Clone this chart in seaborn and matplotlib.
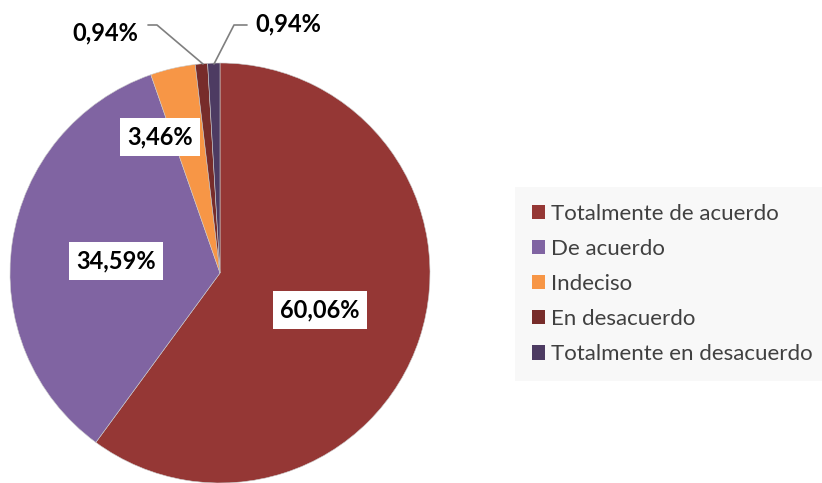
import matplotlib
matplotlib.use('Agg')
import matplotlib.pyplot as plt
import seaborn as sns
from matplotlib.patches import Patch

# 数据
categorias = ['Totalmente de acuerdo', 'De acuerdo', 'Indeciso', 'En desacuerdo', 'Totalmente en desacuerdo']
porcentajes = [60.06, 34.59, 3.46, 0.94, 0.94]
etiquetas = ['60,06%', '34,59%', '3,46%', '0,94%', '0,94%']
colores = ['#953735', '#8064A2', '#F79646', '#772C2A', '#4D3B62']

sns.set_theme(style='white')
plt.rcParams['font.family'] = ['Lato', 'DejaVu Sans']

W, H = 822, 483
fig = plt.figure(figsize=(W / 100, H / 100), dpi=100)
ax = fig.add_axes([0, 0, 1, 1])

palette = sns.color_palette(colores)
cx, cy, r = 220, H - 273, 210
wedges, _ = ax.pie(porcentajes, colors=palette, startangle=90, counterclock=False,
                   center=(cx, cy), radius=r, frame=True,
                   wedgeprops=dict(linewidth=0.4, edgecolor='#cccccc'))
ax.set_xlim(0, W)
ax.set_ylim(0, H)
ax.set_aspect('equal')
ax.axis('off')

# 标签位置（像素坐标，y 从上往下）
pos_labels = [(320, 310), (116, 261), (160, 137), (105, 33), (288, 24)]
box = dict(boxstyle='square,pad=0.3', facecolor='white', edgecolor='none')
for (x, y), txt in zip(pos_labels, etiquetas):
    ax.text(x, H - y, txt, ha='center', va='center', fontsize=17, fontweight='bold',
            color='black', bbox=box, zorder=5)

# 引线
ax.plot([148, 157, 203], [H - 25, H - 25, H - 64], color='#7f7f7f', lw=1.2, zorder=4)
ax.plot([247, 234, 214], [H - 25, H - 25, H - 64], color='#7f7f7f', lw=1.2, zorder=4)

# 图例
handles = [Patch(facecolor=c, edgecolor='none') for c in colores]
leg = ax.legend(handles, categorias, loc='center left', bbox_to_anchor=(515 / W, 1 - 284 / H),
                frameon=True, fontsize=16, labelcolor='#404040', handlelength=0.62,
                handleheight=0.62, handletextpad=0.25, labelspacing=0.68,
                borderpad=0.75, borderaxespad=0, fancybox=False)
leg.get_frame().set_facecolor('#F7F7F7')
leg.get_frame().set_edgecolor('none')

fig.savefig('out.png', dpi=100)
